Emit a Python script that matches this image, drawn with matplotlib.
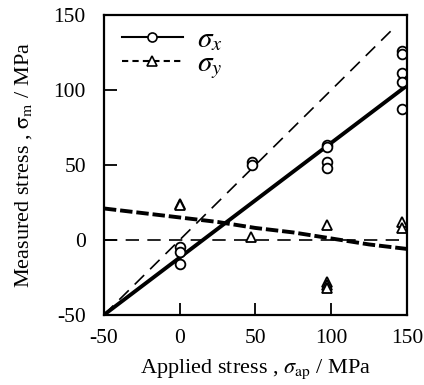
import matplotlib
matplotlib.use("Agg")
import matplotlib.pyplot as plt
from matplotlib.lines import Line2D

plt.rcParams['font.family'] = ['Liberation Serif', 'DejaVu Serif']
plt.rcParams['mathtext.fontset'] = 'stix'

# sigma_x measurements (circles)
sx_applied = [0, 0, 0, 48, 48, 97, 97, 97, 97, 147, 147, 147, 147, 147]
sx_measured = [-5, -8, -16, 52, 50, 63, 62, 52, 48, 126, 124, 111, 105, 87]
# sigma_y measurements (triangles)
sy_applied = [0, 0, 47, 97, 97, 97, 97, 147, 147]
sy_measured = [24, 23, 2, 10, -28, -30, -32, 12, 8]

# fitted sigma_x line
fitx_x = [-50, 150]
fitx_y = [-50, 103]
# fitted sigma_y curve
fity_x = [-50, -25, 0, 25, 50, 75, 100, 125, 150]
fity_y = [21, 18, 15, 12, 8, 5, 1, -3, -6]
# 1:1 reference line
ref_x = [-50, 143]
ref_y = [-50, 143]
# zero line
zero_x = [-50, 150]
zero_y = [0, 0]

ticks = [-50, 0, 50, 100, 150]

fig = plt.figure(figsize=(4.24, 3.85), dpi=100)
ax = fig.add_axes([0.245, 0.182, 0.715, 0.779])

ax.plot(zero_x, zero_y, color='black', lw=1.2, dashes=(8, 5))
ax.plot(ref_x, ref_y, color='black', lw=1.2, dashes=(8, 5))
ax.plot(fitx_x, fitx_y, color='black', lw=2.8, solid_capstyle='butt')
ax.plot(fity_x, fity_y, color='black', lw=2.8, dashes=(3.2, 1.0))

ax.plot(sx_applied, sx_measured, linestyle='none', marker='o', ms=7,
        mfc='white', mec='black', mew=1.3)
ax.plot(sy_applied, sy_measured, linestyle='none', marker='^', ms=7.5,
        mfc='white', mec='black', mew=1.3)

ax.set_xlim(-50, 150)
ax.set_ylim(-50, 150)
ax.set_xticks(ticks)
ax.set_yticks(ticks)
ax.set_xticklabels([str(t) for t in ticks])
ax.set_yticklabels([str(t) for t in ticks])
ax.tick_params(direction='in', length=9, width=1.3, labelsize=15.5,
               top=False, right=False)
ax.tick_params(axis='x', pad=10)
ax.tick_params(axis='y', pad=13)
for s in ax.spines.values():
    s.set_linewidth(1.6)

ax.set_xlabel(r'Applied stress , $\sigma_{\rm ap}$ / MPa', fontsize=16, labelpad=7)
ax.set_ylabel(r'Measured stress , $\mathrm{\sigma_{m}}$ / MPa', fontsize=16, labelpad=14)

h1 = Line2D([], [], color='black', lw=1.5, marker='o', ms=6.5, mfc='white', mec='black', mew=1.2)
h2 = Line2D([], [], color='black', lw=1.5, dashes=(3, 2), marker='^', ms=7, mfc='white', mec='black', mew=1.2)
ax.legend([h1, h2], [r'$\sigma_x$', r'$\sigma_y$'], loc='upper left', frameon=False,
          fontsize=21, handlelength=2.1, handletextpad=0.5, labelspacing=-0.08,
          borderaxespad=0.0, bbox_to_anchor=(0.02, 1.0))

fig.savefig('out.png', dpi=100)
